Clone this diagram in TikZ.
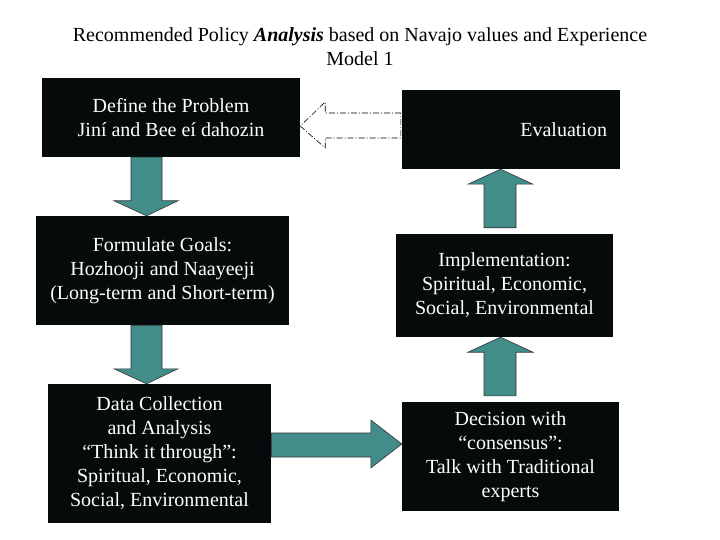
\documentclass[tikz,border=0pt]{standalone}
\usepackage{fontspec}
\setmainfont{Liberation Serif}
\usetikzlibrary{calc}
\definecolor{teal1}{RGB}{66,140,138}
\definecolor{boxblack}{RGB}{5,10,10}
\tikzset{
  stagebox/.style={fill=boxblack, draw=none, text=white, align=center, inner sep=0pt,
    font=\fontsize{20}{24}\selectfont},
  blockarrow/.style={fill=teal1, draw=black!80, line width=0.6pt, line join=miter},
  dasharrow/.style={draw=black, line width=0.6pt, dash pattern=on 6pt off 2pt on 1pt off 2pt, fill=white},
}
\begin{document}
\begin{tikzpicture}[x=1pt,y=1pt]
\useasboundingbox (0,0) rectangle (720,-540);
\fill[white] (0,0) rectangle (720,-540);

\node[font=\fontsize{20}{24}\selectfont, align=center, inner sep=0pt] (title) at (360,-47)
  {Recommended Policy \textbf{\textit{Analysis}} based on Navajo values and Experience\\ Model 1};

\node[stagebox, minimum width=258pt, minimum height=79pt] (define) at (171,-117.5)
  {Define the Problem\\Jiní and Bee eí dahozin};
\node[stagebox, minimum width=218pt, minimum height=79pt, text width=192pt, align=right, inner xsep=13pt] (evaluation) at (511,-129.5)
  {Evaluation};
\node[stagebox, minimum width=253pt, minimum height=109pt] (formulate) at (162.5,-270.5)
  {Formulate Goals:\\Hozhooji and Naayeeji\\(Long-term and Short-term)};
\node[stagebox, minimum width=217pt, minimum height=103pt] (implementation) at (504.5,-285.5)
  {Implementation:\\Spiritual, Economic,\\Social, Environmental};
\node[stagebox, minimum width=223pt, minimum height=139pt] (data) at (159.5,-453.5)
  {Data Collection\\and Analysis\\“Think it through”:\\Spiritual, Economic,\\Social, Environmental};
\node[stagebox, minimum width=217pt, minimum height=109pt] (decision) at (510.5,-456.5)
  {Decision with\\“consensus”:\\Talk with Traditional\\experts};

% down arrows (left column)
\foreach \a/\b in {define/formulate, formulate/data}{
  \draw[blockarrow] let \p1=(\a.south), \p2=(\b.north) in
    (131pt,\y1) -- (131pt,\y2+15pt) -- (114pt,\y2+15pt) -- (146.5pt,\y2) --
    (178pt,\y2+15pt) -- (162pt,\y2+15pt) -- (162pt,\y1) -- cycle;
}
% up arrows (right column)
\foreach \a/\b in {implementation/evaluation, decision/implementation}{
  \draw[blockarrow] let \p1=(\a.north), \p2=(\b.south) in
    (484pt,\y1+6pt) -- (484pt,\y2-15pt) -- (468pt,\y2-15pt) -- (500.5pt,\y2) --
    (533pt,\y2-15pt) -- (516pt,\y2-15pt) -- (516pt,\y1+6pt) -- cycle;
}
% right arrow
\draw[blockarrow] let \p1=(data.east), \p2=(decision.west) in
  (\x1,-433pt) -- (\x2-31pt,-433pt) -- (\x2-31pt,-420pt) -- (\x2,-444pt) --
  (\x2-31pt,-468pt) -- (\x2-31pt,-457pt) -- (\x1,-457pt) -- cycle;
% dashed feedback arrow
\draw[dasharrow] let \p1=(evaluation.west), \p2=(define.east) in
  (\x1-1pt,-113pt) -- (\x2+25pt,-113pt) -- (\x2+25pt,-102pt) -- (\x2,-126pt) --
  (\x2+25pt,-148pt) -- (\x2+25pt,-138pt) -- (\x1-1pt,-138pt) -- cycle;
\end{tikzpicture}
\end{document}
